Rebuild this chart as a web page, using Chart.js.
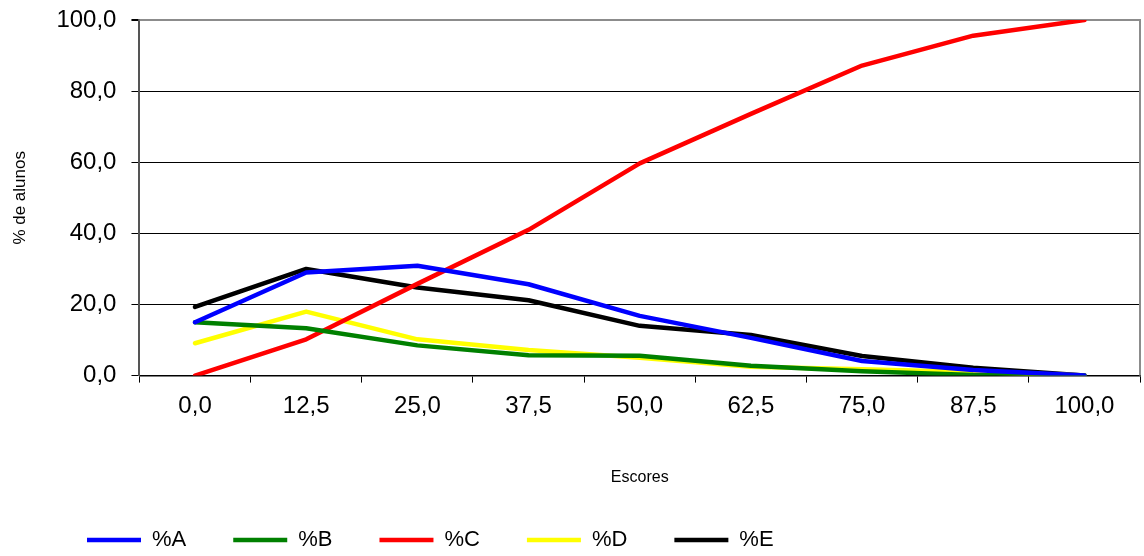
<!DOCTYPE html>
<html>
<head>
<meta charset="utf-8">
<script src="https://cdn.jsdelivr.net/npm/chart.js@4/dist/chart.umd.min.js"></script>
<style>
  html, body { margin: 0; padding: 0; background: #fff; }
  #wrap { width: 1144px; height: 556px; }
</style>
</head>
<body>
<div id="wrap"><canvas id="grafico"></canvas></div>
<script>
'use strict'

// escores (eixo x)
const escores = ['0,0', '12,5', '25,0', '37,5', '50,0', '62,5', '75,0', '87,5', '100,0']
// rótulos do eixo y
const ticksY = ['0,0', '20,0', '40,0', '60,0', '80,0', '100,0']

// % de alunos por alternativa
const pctA = [15.0, 29.0, 30.9, 25.7, 16.8, 10.6, 4.1, 1.6, 0.0]
const pctB = [15.0, 13.3, 8.5, 5.7, 5.6, 2.8, 1.2, 0.2, 0.0]
const pctC = [0.0, 10.2, 25.8, 41.0, 59.7, 73.6, 87.2, 95.6, 100.0]
const pctD = [9.1, 18.0, 10.2, 7.2, 5.0, 2.5, 1.8, 1.0, 0.0]
const pctE = [19.3, 30.0, 24.8, 21.2, 14.0, 11.4, 5.5, 2.2, 0.0]

const fonte = "'Liberation Sans', Arial, sans-serif"

function serie(nome, valores, cor) {
  return {
    label: nome,
    data: valores,
    borderColor: cor,
    backgroundColor: cor,
    borderWidth: 4.5,
    borderCapStyle: 'round',
    borderJoinStyle: 'round',
    pointRadius: 0,
    tension: 0
  }
}

// moldura cinza do gráfico (topo e direita)
const moldura = {
  id: 'moldura',
  beforeDatasetsDraw(chart) {
    const { ctx, chartArea: a } = chart
    ctx.save()
    ctx.strokeStyle = '#8c8c8c'
    ctx.lineWidth = 2
    ctx.beginPath()
    ctx.moveTo(a.left, a.top)
    ctx.lineTo(a.right, a.top)
    ctx.lineTo(a.right, a.bottom)
    ctx.stroke()
    ctx.restore()
  }
}

// legenda à esquerda, embaixo
const posLegenda = {
  id: 'posLegenda',
  afterLayout(chart) {
    const lg = chart.legend
    const dx = 40 - lg.left
    const dy = 482 - lg.top
    lg.left += dx; lg.right += dx
    lg.top += dy; lg.bottom += dy
  }
}

const ctx = document.getElementById('grafico').getContext('2d')
new Chart(ctx, {
  type: 'line',
  data: {
    labels: escores,
    datasets: [
      serie('%A', pctA, '#0000ff'),
      serie('%B', pctB, '#008000'),
      serie('%C', pctC, '#ff0000'),
      serie('%D', pctD, '#ffff00'),
      serie('%E', pctE, '#000000')
    ]
  },
  plugins: [moldura, posLegenda],
  options: {
    responsive: true,
    maintainAspectRatio: false,
    animation: false,
    layout: { padding: { top: 20, right: 4, left: 0, bottom: 0 } },
    plugins: {
      tooltip: { enabled: false },
      legend: {
        position: 'bottom',
        align: 'start',
        labels: {
          usePointStyle: true,
          pointStyle: 'line',
          pointStyleWidth: 54,
          boxHeight: 5,
          padding: 47,
          color: '#000',
          font: { family: fonte, size: 22 }
        }
      }
    },
    scales: {
      x: {
        offset: true,
        grid: {
          offset: true,
          drawOnChartArea: false,
          drawTicks: true,
          tickLength: 7,
          color: '#000'
        },
        border: { color: '#000', width: 1.5 },
        ticks: {
          padding: 9,
          color: '#000',
          maxRotation: 0,
          font: { family: fonte, size: 24 }
        },
        title: {
          display: true,
          text: 'Escores',
          color: '#000',
          font: { family: fonte, size: 16 },
          padding: { top: 39, bottom: -10.6 }
        }
      },
      y: {
        min: 0,
        max: 100,
        grid: {
          color: ctx => ctx.tick && ctx.tick.value === 100 ? '#8c8c8c' : '#000',
          lineWidth: ctx => ctx.tick && ctx.tick.value === 100 ? 2 : 1,
          tickLength: 8,
          tickColor: '#000'
        },
        border: { color: '#555', width: 2 },
        ticks: {
          stepSize: 20,
          padding: 15,
          color: '#000',
          font: { family: fonte, size: 24, lineHeight: 0.42 },
          callback: (v, i) => ticksY[i]
        },
        title: {
          display: true,
          text: '% de alunos',
          color: '#000',
          font: { family: fonte, size: 17 },
          padding: { top: 10, bottom: 11 }
        }
      }
    }
  }
})
</script>
</body>
</html>
